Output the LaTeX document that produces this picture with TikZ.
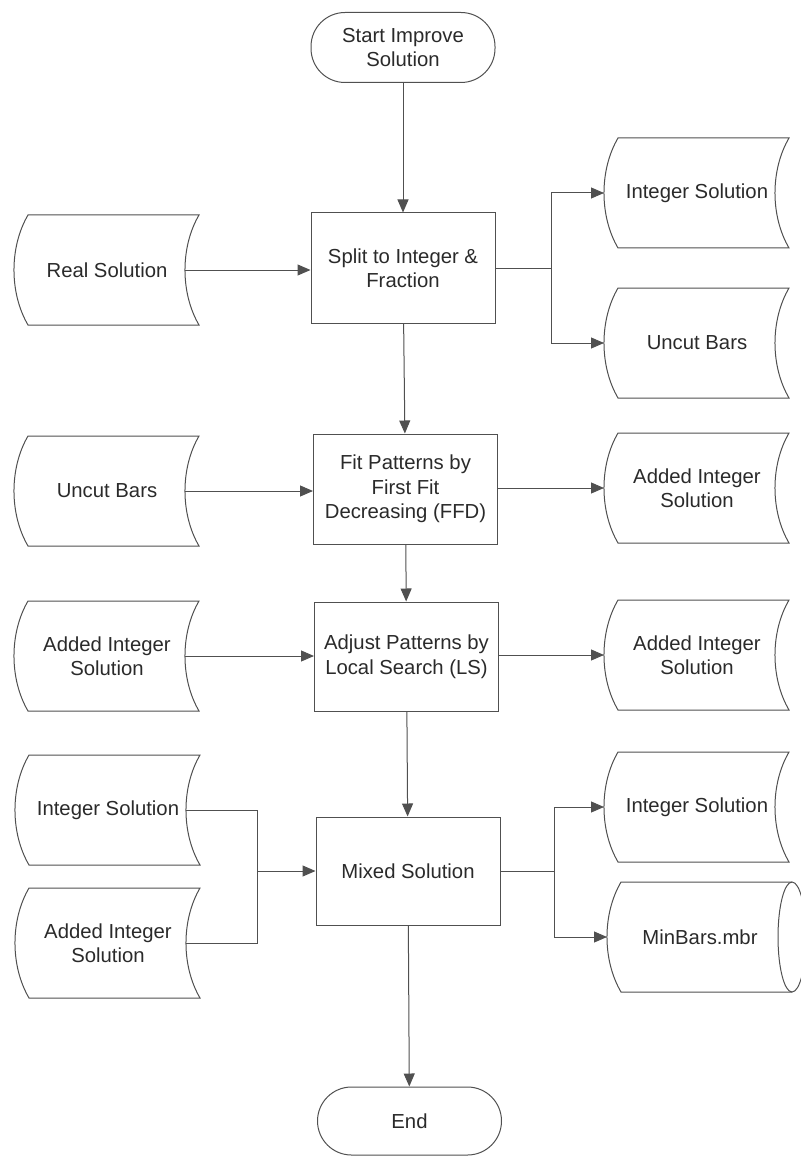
\documentclass[tikz,border=0pt]{standalone}
\usepackage{fontspec}
\setmainfont{Liberation Sans}
\usetikzlibrary{arrows.meta}

\definecolor{ink}{HTML}{505050}
\definecolor{txt}{HTML}{2A2A2A}

\tikzset{
  ln/.style={draw=ink, line width=1pt},
  flow/.style={ln, -{Triangle[length=13pt,width=11pt]}},
  lbl/.style={align=center, text=txt, inner sep=0pt,
              font=\fontsize{20.3}{24.5}\selectfont},
  procbox/.style={lbl, ln, rectangle, minimum width=184pt, minimum height=110pt},
  termbox/.style={lbl, ln, rectangle, rounded corners=34pt,
                  minimum width=184pt, minimum height=70pt},
}

% stored-data symbol: both sides curved toward the left
% #1 name, #2 x, #3 y (downward), #4 label
\newcommand\mkstore[4]{%
  \begin{scope}[shift={(#2,-#3)}]
    \node[lbl] (#1) at (0,0) {#4};
    \coordinate (#1-in) at (-93,0);
    \coordinate (#1-out) at (78,0);
    \draw[ln] (-79,55) -- (92,55)
      .. controls (73.3,23) and (73.3,-23) .. (92,-55)
      -- (-79,-55)
      .. controls (-97.7,-23) and (-97.7,23) .. (-79,55) -- cycle;
  \end{scope}}

% direct-access storage symbol (drum)
\newcommand\mkdrum[4]{%
  \begin{scope}[shift={(#2,-#3)}]
    \node[lbl] (#1) at (0,0) {#4};
    \coordinate (#1-in) at (-93,0);
    \draw[ln] (92,55) -- (-79,55)
      .. controls (-97.7,23) and (-97.7,-23) .. (-79,-55) -- (92,-55);
    \draw[ln] (92,0) ellipse [x radius=14, y radius=55];
  \end{scope}}

\begin{document}
\begin{tikzpicture}[x=1pt, y=1pt]
  \useasboundingbox (0,0) rectangle (800,-1158);

  % main column
  \node[termbox] (start) at (403,-47.5) {Start Improve\\Solution};
  \node[procbox] (b1) at (403,-268) {Split to Integer \&\\Fraction};
  \node[procbox] (b2) at (405.5,-489) {Fit Patterns by\\First Fit\\Decreasing (FFD)};
  \node[procbox, minimum height=109pt] (b3) at (406.5,-656.5) {Adjust Patterns by\\Local Search (LS)};
  \node[procbox, minimum height=108pt] (b4) at (408,-871) {Mixed Solution};
  \node[termbox, minimum height=68pt] (end) at (409.5,-1121) {End};

  % inputs on the left
  \mkstore{rs}{107}{270}{Real Solution}
  \mkstore{ubl}{107}{491}{Uncut Bars}
  \mkstore{ail}{107}{656}{Added Integer\\Solution}
  \mkstore{isl}{108}{810}{Integer Solution}
  \mkstore{ail2}{108}{943}{Added Integer\\Solution}

  % outputs on the right
  \mkstore{isr}{697}{193}{Integer Solution}
  \mkstore{ubr}{697}{343}{Uncut Bars}
  \mkstore{air}{697}{488}{Added Integer\\Solution}
  \mkstore{air2}{697}{655}{Added Integer\\Solution}
  \mkstore{isr2}{697}{807}{Integer Solution}
  \mkdrum{mb}{700}{937}{MinBars.mbr}

  % branch points
  \coordinate (j1) at (551,-268);
  \coordinate (j2) at (257,-871);
  \coordinate (j3) at (554,-871);

  % main flow
  \draw[flow] (start) -- (b1);
  \draw[flow] (b1) -- (b2);
  \draw[flow] (b2) -- (b3);
  \draw[flow] (b3) -- (b4);
  \draw[flow] (b4) -- (end);

  % inputs
  \draw[flow] (rs-out) -- (rs-out -| b1.west);
  \draw[flow] (ubl-out) -- (ubl-out -| b2.west);
  \draw[flow] (ail-out) -- (ail-out -| b3.west);
  \draw[ln] (isl-out) -| (j2);
  \draw[ln] (ail2-out) -| (j2);
  \draw[flow] (j2) -- (j2 -| b4.west);

  % outputs
  \draw[ln] (b1.east) -- (j1);
  \draw[flow] (j1) |- (isr-in);
  \draw[flow] (j1) |- (ubr-in);
  \draw[flow] (b2.east |- air-in) -- (air-in);
  \draw[flow] (b3.east |- air2-in) -- (air2-in);
  \draw[ln] (b4.east) -- (j3);
  \draw[flow] (j3) |- (isr2-in);
  \draw[flow] (j3) |- (mb-in);
\end{tikzpicture}
\end{document}
